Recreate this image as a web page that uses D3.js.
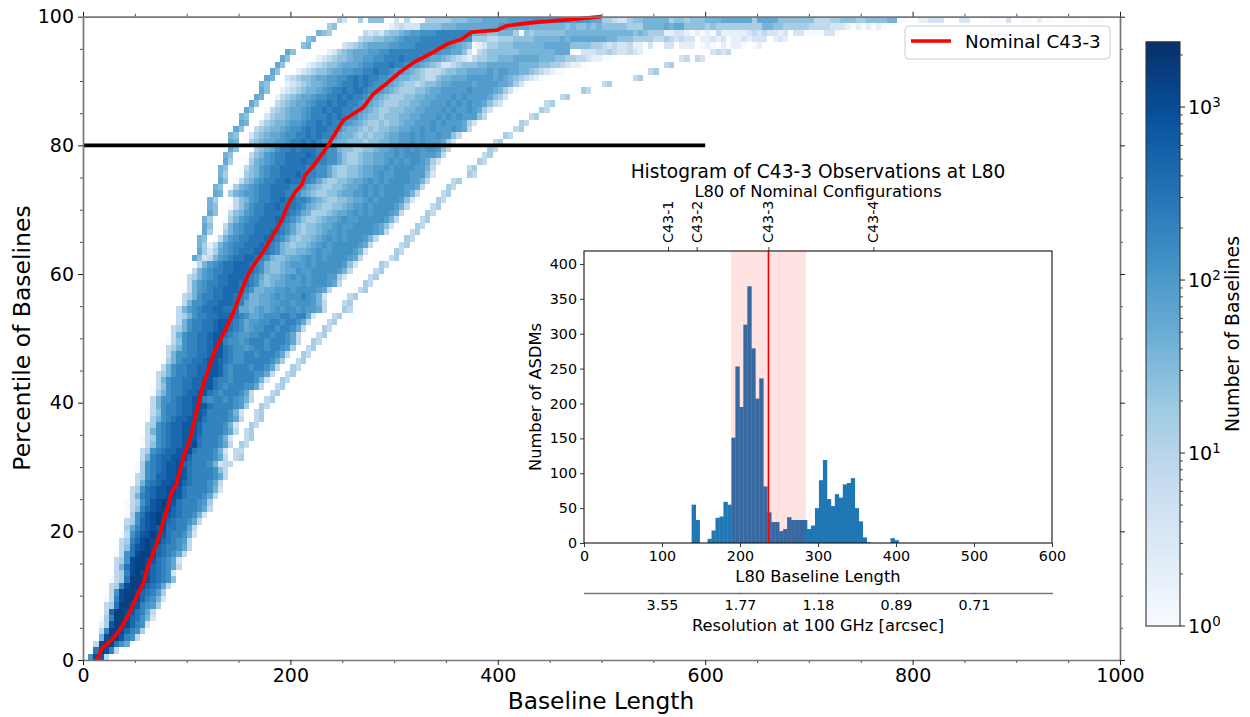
<!DOCTYPE html>
<html>
<head>
<meta charset="utf-8">
<script src="https://cdn.jsdelivr.net/npm/d3@7"></script>
<style>
  html, body { margin: 0; background: #fff; }
  svg { display: block; }
  text { font-family: "DejaVu Sans", sans-serif; fill: #000; }
</style>
</head>
<body>
<svg width="1250" height="717"></svg>
<script>
// cell codes of the 2d histogram: position in cellCodes = index in cellCounts
const cellCodes = ".123456789abcdefgh";
const cellCounts = [0, 1, 2, 4, 8, 15, 25, 40, 60, 90, 130, 200, 300, 450, 700, 1000, 1500, 2200];

// one entry per percentile row, bottom row first: first filled column, then the cells (5 m wide)
const rowStarts = [1,2,2,3,3,3,3,4,4,4,5,5,5,6,6,6,6,7,7,7,8,8,8,8,8,9,9,10,10,10,
  10,11,11,11,11,12,12,12,12,13,13,13,13,14,14,15,15,16,16,16,17,17,18,18,18,19,19,19,20,20,
  21,21,21,22,22,22,23,23,23,24,24,24,25,25,26,26,26,27,27,28,28,28,29,30,30,31,32,33,34,34,
  35,36,37,38,39,42,43,45,47,49];
const rowCells = [
  "afe4",
  "cgfb4",
  "4fggca8",
  "7fggeba4",
  "4bggfdba5",
  "25eggfdba3",
  "15bggfdca73",
  "4dggfecb84",
  "45cggfeba95",
  "14bfggfdba73",
  "4afggfdcb95",
  "45bfggfdcb84",
  "145cgggfdcba6",
  "45bfgfedcba3",
  "47cfggfdcba84",
  "45afggfecba83",
  "14acfggfdcba84",
  "46cefgfdcbba84",
  "45bdfgffdcba94",
  "14acefgfecbba73",
  "58bdefefccbb84",
  "45adefgfdcbba84",
  "15acefgfedcbba73",
  "146bdefgfdcbbba84",
  "145acefgfecbbba95",
  "47bcdeeffecbbba84",
  "45acdeeffecbbbba73",
  "47bcdeeffdcbbba84",
  "45abddeefecbbbba84",
  "15abcdeefecbbbba64",
  "15abcdeefdcbbba7344",
  "47bcddeefdbbbba84.45",
  "45abcddeefcbbba73.44",
  "146abcddeefcbbba84.54",
  "145abcddeeecbbba73..45",
  "47abcddeeedbbbba84.45",
  "45abcddeeedbbbba73..54",
  "157abcddeeecbbbba84..45",
  "146abbcddeedbbbba73..45",
  "47abbcddeeecbbbba95..54",
  "47aabcddeebabbaba974..45",
  "157abbcddeecbabbba84...45",
  "146abbccddeecbabbbaa84..45",
  "47abbccddeecbbabbbba73..54",
  "457abbccddeedbabbbbaa84..45",
  "47abbccddeedbabbbabba84..54",
  "157abbccdeedcbaabbbbba85..45",
  "47aabbccdeecbaabbabbba84..54",
  "457abbccdeecbaa9abbabba95..45",
  "146abbccdeebaa9abbbabbba84..54",
  "47abbccdeecba99aabbabba84...45",
  "457abbccdeecba89aabbabba84...54",
  "47abbccdeecba899aabbabba84...45",
  "457abbccdddcba889aaabbabb83...45",
  "479abccddccc8878989a9aa9a9984...54",
  "47aabccdddcb8778899aa9aaa974...45",
  "457abbccddcba77889a9aaaba973....45",
  "1479abccdddcba778899a9aaaa984.....45",
  "479abbccddccba76788999a9aaa984....54",
  "4579abccdddcba867789a9a9aaa9953....45",
  "479abbccdddcba766788a99aaaaa974....45",
  "1479abccdddcba76678999a9aaaaa963....54",
  "86347" + "9abccddcba7667889a9a9aaaa984.....45",
  "85358" + "9abcccddcba7667789a99aaaa973.....54",
  "75247" + "9abbcccdcba76566789a9aaaaa984.....45",
  "761479abbcccdcba86566789a9a9aaa974.....54".replace("761", "76.1"),
  "85.1579abbcccdcba865667899a9aaaaa984....45",
  "86..479abbcccccba865667889a99aaaa9863....54",
  "75..1579abbcccdcba865567889a99aaaaa974....45",
  "86..4679abbcccccba8755567889a9a9aaa984....54",
  "76..1468abbccdcccba87655667899a9aaaa974....45",
  "75...4679abbccdccbba87655667889a9aaaa963....54",
  "87.57899abbcccbba876556678899a9a9aaaa974....45",
  "76.15789abbccccbba87655667889a9a9aaaa9984....54",
  "86.14679abbccdccbba8655667889a9a9aaaa9974....45",
  "75..15679abbcccdcbbaa8655667889a99aaa99963......54",
  "76..14679abbcccccbbaa86556678899a9aaaa9974......45",
  "85..15789abbcccdccbbaa8655677889a9a9aa9853.......54",
  "76...4679abbccccdcbbaa86556778899a9aaa99984.......45",
  "86...5678abbcbcccbbaa76655667889a9a9a9aa964.......54",
  "87.15678899abbcbcbaa8776665667788" + "99a9a999" + "853" + ".......45",
  "76..356788" + "9aabbcbcbba" + "8776565667889" + "9a9a99a9" + "964" + "........54",
  "86..456778" + "9aabcbccbba" + "87765656677889" + "9a9a999a" + "984" + "........45",
  "87..356778" + "99abbcbcbba" + "98765565667889" + "99a9a999" + "853" + "........54",
  "76...356678" + "89abbbcbcba" + "a8766566677889" + "99a9a9a9" + "9964" + "........45",
  "86..145678" + "89abbcbccbba" + "98765566677889" + "99a9a99a9" + "853" + ".........54",
  "86..145678" + "89abbcbccbba" + "98765556677889" + "99a9a9a99" + "8643" + "........45",
  "87..245678" + "89aabbcbcbba" + "98765556677889" + "99a9a9999" + "8653" + "..........45",
  "86..234567" + "789abbcbccba" + "a9876555667889" + "9999a9999" + "87531" + "............54",
  "76...234567" + "7899abbcbcba" + "a98" + "76554" + "566788" + "9999899998" + "87531" + "..............45",
  "87..345667" + "8899aabcbcb" + "baa" + "98" + "7766" + "544" + "6778889999989" + "876" + "54321" + ".................45",
  "86...23456" + "678899a" + "abbcbb" + "a998" + "7654" + "4456" + "6778888989" + "988776" + "543211" + "................45",
  "86....23456" + "678889a" + "abbbcbb" + "a998" + "7653" + "3456" + "6677888888" + "7777665" + "543221" + "...............45",
  "86.....23456" + "678899a" + "abbbcbbb" + "a988" + "7654" + "3245" + "5667778888" + "8777665" + "54432211" + "............." + "34.43",
  "86......235678889" + "9aabbbbbbbb" + "aa9988" + "6314" + "566666677777" + "77888" + "113" + "33445" + "433" + "4" + "32" + "............." + "3434",
  "67......34567888" + "899aaabbbbbba" + "9876" + "123" + "556667777" + "7788888" + "666655" + "4343" + "342" + "2.3" + "..3" + "3.2" + "22.12" + "1.212" + "21.12",
  "67........45566778" + "9aaabbbbbbbbaa" + "5554455" + "566667777" + "7878888888" + "776" + "665" + "555" + "44543" + "43" + "3.2" + "232" + "3" + "1" + "22323" + "33" + "." + "232",
  "765......4343566" + "7899aaabbbbbbb" + "77766777516" + "566666677777777" + "77777676" + "555" + "22" + "33" + "212121" + "4" + "22222" + "3434" + "33" + "23" + "." + "33" + "1111" + "33" + "1",
  "56.........1234333" + "6666777" + "88888888" + "99" + "8888" + "777777" + "76766767" + "66666555" + "7777" + "8788" + "666656" + "555555555" + "7766" + "5555544" + "44333" + "21212121",
  "53..5.666..3.4111" + "5555566" + "67778888899999aa9" + "aaaa9a9988" + "55" + "433" + "566" + "77777" + "56656" + "66777" + "888888" + "5" + "8888" + "6666666" + "44" + "455" + "666" + "55666677" + "11..22333...33....11.3..11.2.1..111..111"
];

// nominal C43-3 curve
const nominalBaseline = [13, 14.8, 18, 27.6, 35.7, 45.3, 53.3, 58.2, 63, 67.8, 74.3, 82.3, 85.5, 90.3, 93.5, 98.4, 103, 115.7, 127, 137, 145, 157.5, 164.2, 173.8, 182, 191.5, 198, 204.4, 210.8, 214, 223.7, 236.5, 238, 251, 270.3, 280, 292.8, 305.7, 320, 334.6, 352, 365, 374.8, 399, 408.6, 434, 466, 500];
const nominalPercentile = [0, 0.5, 1.8, 3.1, 4.7, 7.5, 10.4, 11.9, 14.8, 16.6, 19.7, 24.1, 26.1, 27.4, 29.5, 32.3, 34.2, 42.7, 48, 51.2, 54, 59.3, 61.3, 63.4, 65.7, 68.3, 70.9, 72.7, 73.8, 75.3, 77.1, 80, 80.5, 83.9, 85.9, 88, 89.6, 91.4, 93, 94.2, 95.8, 96.5, 97.6, 97.9, 98.6, 99.1, 99.5, 100];

// inset histogram of L80
const histFirstEdge = 138;
const histBinWidth = 5.1;
const histCounts = [55, 33, 0, 0, 6, 18, 36, 38, 59, 55, 151, 253, 195, 313, 368, 279, 207, 236, 81, 44, 30, 30, 17, 20, 37, 33, 33, 33, 33, 20, 25, 50, 90, 119, 63, 53, 70, 65, 84, 86, 93, 50, 31, 8, 1, 0, 0, 0, 0, 0, 7, 4];
const shadeRange = [188.5, 284.6];
const nominalL80 = 236.5;
const configNames = ["C43-1", "C43-2", "C43-3", "C43-4"];
const configL80 = [107.7, 144.4, 236.4, 371];
const resolutionTicks = [100, 200, 300, 400, 500];
const resolutionLabels = ["3.55", "1.77", "1.18", "0.89", "0.71"];

const svg = d3.select('svg');

// main axes
const x = d3.scaleLinear().domain([0, 1000]).range([83, 1120]);
const y = d3.scaleLinear().domain([0, 100]).range([660, 16.7]);

// colours: matplotlib's Blues is the 9 class brewer ramp
const cbarMax = 2377;
const logT = d3.scaleLog().domain([1, cbarMax]).range([0, 1]);
const blues = d3.scaleLinear().domain(d3.range(9).map(i => i / 8)).range(d3.schemeBlues[9]);
const colour = v => blues(logT(v));

// flatten the row strings to cells
const cells = [];
rowCells.forEach((row, r) => {
  Array.from(row).forEach((ch, i) => {
    const count = cellCounts[cellCodes.indexOf(ch)];
    if (count > 0) cells.push({col: rowStarts[r] + i, row: r, count});
  });
});

svg.append('g').selectAll('rect').data(cells)
  .enter().append('rect')
    .attr('x', d => x(d.col * 5))
    .attr('y', d => y(d.row + 1))
    .attr('width', x(5) - x(0))
    .attr('height', y(0) - y(1))
    .attr('fill', d => colour(d.count))
    .attr('shape-rendering', 'crispEdges');

// black L80 marker
svg.append('line')
  .attr('x1', x(0)).attr('x2', x(600))
  .attr('y1', y(80)).attr('y2', y(80))
  .attr('stroke', '#000').attr('stroke-width', 3.6);

// red curve
const nominalLine = d3.line().x(d => x(d[0])).y(d => y(d[1]));
svg.append('path')
  .attr('d', nominalLine(d3.zip(nominalBaseline, nominalPercentile)))
  .attr('fill', 'none').attr('stroke', '#f00').attr('stroke-width', 3.8)
  .attr('stroke-linejoin', 'round');

// ticks on all four sides
const xMajor = d3.range(0, 1001, 200), xMinor = d3.range(0, 1001, 50).filter(v => v % 200);
const yMajor = d3.range(0, 101, 20), yMinor = d3.range(0, 101, 5).filter(v => v % 20);

function drawAxis(axisFn, scale, major, minor, pos, labels) {
  const g = svg.append('g').attr('transform', pos);
  const minorG = g.append('g').call(axisFn(scale).tickValues(minor).tickSize(3).tickFormat(''));
  minorG.select('.domain').remove();
  minorG.selectAll('line').attr('stroke', '#222').attr('stroke-width', 0.8);
  const majorG = g.append('g').call(axisFn(scale).tickValues(major).tickSize(5).tickSizeOuter(0).tickPadding(4)
    .tickFormat(labels ? d3.format('d') : ''));
  majorG.select('.domain').attr('stroke', '#777').attr('stroke-width', 1.7);
  majorG.selectAll('line').attr('stroke', '#222').attr('stroke-width', 1);
  majorG.selectAll('text').style('font-family', '"DejaVu Sans"').style('font-size', '19px').attr('fill', '#000');
}
drawAxis(d3.axisBottom, x, xMajor, xMinor, 'translate(0,660)', true);
drawAxis(d3.axisTop, x, xMajor, xMinor, 'translate(0,16.7)', false);
drawAxis(d3.axisLeft, y, yMajor, yMinor, 'translate(83,0)', true);
drawAxis(d3.axisRight, y, yMajor, yMinor, 'translate(1120,0)', false);

svg.append('text').attr('x', 601).attr('y', 709).attr('text-anchor', 'middle')
  .attr('font-size', 23.3).text('Baseline Length');
svg.append('text').attr('transform', 'translate(30,338) rotate(-90)').attr('text-anchor', 'middle')
  .attr('font-size', 23.5).text('Percentile of Baselines');

// legend
const legend = svg.append('g');
legend.append('rect').attr('x', 905).attr('y', 26).attr('width', 205).attr('height', 33).attr('rx', 4)
  .attr('fill', '#fff').attr('fill-opacity', 0.8).attr('stroke', '#ccc').attr('stroke-width', 1);
legend.append('line').attr('x1', 911).attr('x2', 951).attr('y1', 41).attr('y2', 41)
  .attr('stroke', '#f00').attr('stroke-width', 3.6);
legend.append('text').attr('x', 965).attr('y', 47.5).attr('font-size', 18.3).text('Nominal C43-3');

// colour bar
const cbar = d3.scaleLog().domain([1, cbarMax]).range([626, 42]);
const cbarG = svg.append('g');
const cbarSteps = d3.range(256).map(i => i / 256);
cbarG.selectAll('rect').data(cbarSteps).enter().append('rect')
  .attr('x', 1146).attr('width', 34)
  .attr('y', t => 626 - (t + 1 / 256) * 584 - 0.5)
  .attr('height', 584 / 256 + 1)
  .attr('fill', t => blues(t + 0.5 / 256));
cbarG.append('rect').attr('x', 1146).attr('y', 42).attr('width', 34).attr('height', 584)
  .attr('fill', 'none').attr('stroke', '#333').attr('stroke-width', 1.1);

const cbarMinor = [];
[1, 10, 100, 1000].forEach(p => d3.range(2, 10).forEach(m => { if (p * m < cbarMax) cbarMinor.push(p * m); }));
cbarG.selectAll('line.minor').data(cbarMinor).enter().append('line').attr('class', 'minor')
  .attr('x1', 1180).attr('x2', 1183).attr('y1', d => cbar(d)).attr('y2', d => cbar(d))
  .attr('stroke', '#222').attr('stroke-width', 0.8);
const cbarMajor = [0, 1, 2, 3];
cbarG.selectAll('line.major').data(cbarMajor).enter().append('line').attr('class', 'major')
  .attr('x1', 1180).attr('x2', 1185).attr('y1', d => cbar(10 ** d)).attr('y2', d => cbar(10 ** d))
  .attr('stroke', '#222').attr('stroke-width', 1);
const cbarLabels = cbarG.selectAll('text').data(cbarMajor).enter().append('text')
  .attr('x', 1188).attr('y', d => cbar(10 ** d) + 6.5).attr('font-size', 19);
cbarLabels.append('tspan').text('10');
cbarLabels.append('tspan').attr('dy', -7).attr('font-size', 13.3).text(d => d);
svg.append('text').attr('transform', 'translate(1239,334) rotate(-90)').attr('text-anchor', 'middle')
  .attr('font-size', 18.9).text('Number of Baselines');

// inset
const ix = d3.scaleLinear().domain([0, 600]).range([584, 1052]);
const iy = d3.scaleLinear().domain([0, 418.6]).range([543, 251]);
const inset = svg.append('g');

inset.selectAll('rect.bar').data(histCounts).enter().append('rect').attr('class', 'bar')
  .attr('x', (d, i) => ix(histFirstEdge + i * histBinWidth))
  .attr('width', ix(histBinWidth) - ix(0) + 0.35)
  .attr('y', d => iy(d))
  .attr('height', d => iy(0) - iy(d))
  .attr('fill', '#1f77b4');

inset.append('rect')
  .attr('x', ix(shadeRange[0])).attr('width', ix(shadeRange[1]) - ix(shadeRange[0]))
  .attr('y', 251).attr('height', 292)
  .attr('fill', '#f00').attr('fill-opacity', 0.11);
inset.append('line')
  .attr('x1', ix(nominalL80)).attr('x2', ix(nominalL80)).attr('y1', 251).attr('y2', 543)
  .attr('stroke', '#f00').attr('stroke-width', 1.6);

inset.append('rect').attr('x', 584).attr('y', 251).attr('width', 468).attr('height', 292)
  .attr('fill', 'none').attr('stroke', '#111').attr('stroke-width', 1.1);

function styleInset(g, size) {
  g.select('.domain').remove();
  g.selectAll('line').attr('stroke', '#222').attr('stroke-width', 0.9);
  g.selectAll('text').style('font-family', '"DejaVu Sans"').style('font-size', size).attr('fill', '#000');
}
const insetBottom = inset.append('g').attr('transform', 'translate(0,543)')
  .call(d3.axisBottom(ix).tickValues(d3.range(0, 601, 100)).tickSize(4).tickPadding(4).tickFormat(d3.format('d')));
styleInset(insetBottom, '14.3px');
const insetLeft = inset.append('g').attr('transform', 'translate(584,0)')
  .call(d3.axisLeft(iy).tickValues(d3.range(0, 401, 50)).tickSize(4).tickPadding(3).tickFormat(d3.format('d')));
styleInset(insetLeft, '14.3px');

const topTicks = inset.append('g').attr('transform', 'translate(0,251)')
  .call(d3.axisTop(ix).tickValues(configL80).tickSize(4).tickFormat(''));
styleInset(topTicks, '14.3px');
inset.selectAll('text.config').data(configNames).enter().append('text').attr('class', 'config')
  .attr('transform', (d, i) => `translate(${ix(configL80[i]) + 5},243) rotate(-90)`)
  .attr('font-size', 14.3).text(d => d);

// resolution axis below the inset
const resAxis = inset.append('g').attr('transform', 'translate(0,593)')
  .call(d3.axisBottom(ix).tickValues(resolutionTicks).tickSize(1).tickPadding(6).tickFormat((d, i) => resolutionLabels[i]));
resAxis.select('.domain').attr('stroke', '#777').attr('stroke-width', 1.3);
resAxis.selectAll('line').attr('stroke', '#444');
resAxis.selectAll('text').style('font-family', '"DejaVu Sans"').style('font-size', '14.3px').attr('fill', '#000');

inset.append('text').attr('x', 818).attr('y', 582).attr('text-anchor', 'middle').attr('font-size', 16.3).text('L80 Baseline Length');
inset.append('text').attr('x', 818).attr('y', 631).attr('text-anchor', 'middle').attr('font-size', 16.3).text('Resolution at 100 GHz [arcsec]');
inset.append('text').attr('transform', 'translate(541,397) rotate(-90)').attr('text-anchor', 'middle')
  .attr('font-size', 16.3).text('Number of ASDMs');
inset.append('text').attr('x', 818).attr('y', 178).attr('text-anchor', 'middle').attr('font-size', 18.6).text('Histogram of C43-3 Observations at L80');
inset.append('text').attr('x', 818).attr('y', 197).attr('text-anchor', 'middle').attr('font-size', 16.3).text('L80 of Nominal Configurations');
</script>
</body>
</html>
